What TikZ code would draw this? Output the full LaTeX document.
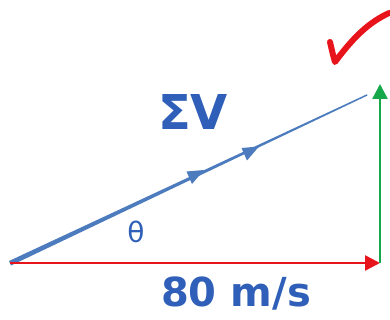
\documentclass[tikz,border=0pt]{standalone}
\usepackage{fontspec}
\setmainfont{DejaVu Sans}
\usetikzlibrary{arrows.meta,decorations.markings}
\definecolor{lineblue}{HTML}{4C7CBE}
\definecolor{inkblue}{HTML}{2F5FB8}
\definecolor{inkred}{HTML}{E8141B}
\definecolor{inkgreen}{HTML}{16A84A}
\tikzset{
  vec/.style={line width=2.5pt,-{Triangle[length=15pt,width=15pt]}},
  ink/.style={text=inkblue,font=\bfseries,inner sep=0pt},
  midhead/.style={fill=lineblue},
}
\begin{document}
\begin{tikzpicture}[x=1pt,y=-1pt]
\useasboundingbox (0,0) rectangle (390,320);
\coordinate (O) at (10,263);
\coordinate (R) at (380,263);
\coordinate (T) at (380,84);
\coordinate (E) at (367,95);
% tapered resultant
\fill[lineblue] (9,261) -- (367,94.2) -- (367.4,95.6) -- (11,265.5) -- cycle;
% arrowheads on resultant
\fill[midhead] (204,170) -- (186.5,171.5) -- (192,184) -- cycle;
\fill[midhead] (259,146.5) -- (241.5,148) -- (247,160.5) -- cycle;
% components
\draw[vec,inkred] (O) -- (R);
\draw[vec,inkgreen] (R) -- (T);
% labels
\node[ink,font=\bfseries\fontsize{48}{48}\selectfont,anchor=base] (sv) at (193,130) {ΣV};
\node[ink,font=\bfseries\fontsize{40}{40}\selectfont,anchor=base] (v80) at (236,306) {80 m/s};
\node[text=inkblue,font=\fontsize{28}{28}\selectfont,inner sep=0pt] (th) at (136,232) {θ};
% check mark
\draw[inkred,line width=6pt,line cap=round,line join=round] (330,42) .. controls (333,55) .. (335,62) .. controls (355,35) and (370,22) .. (389,13);
\end{tikzpicture}
\end{document}
